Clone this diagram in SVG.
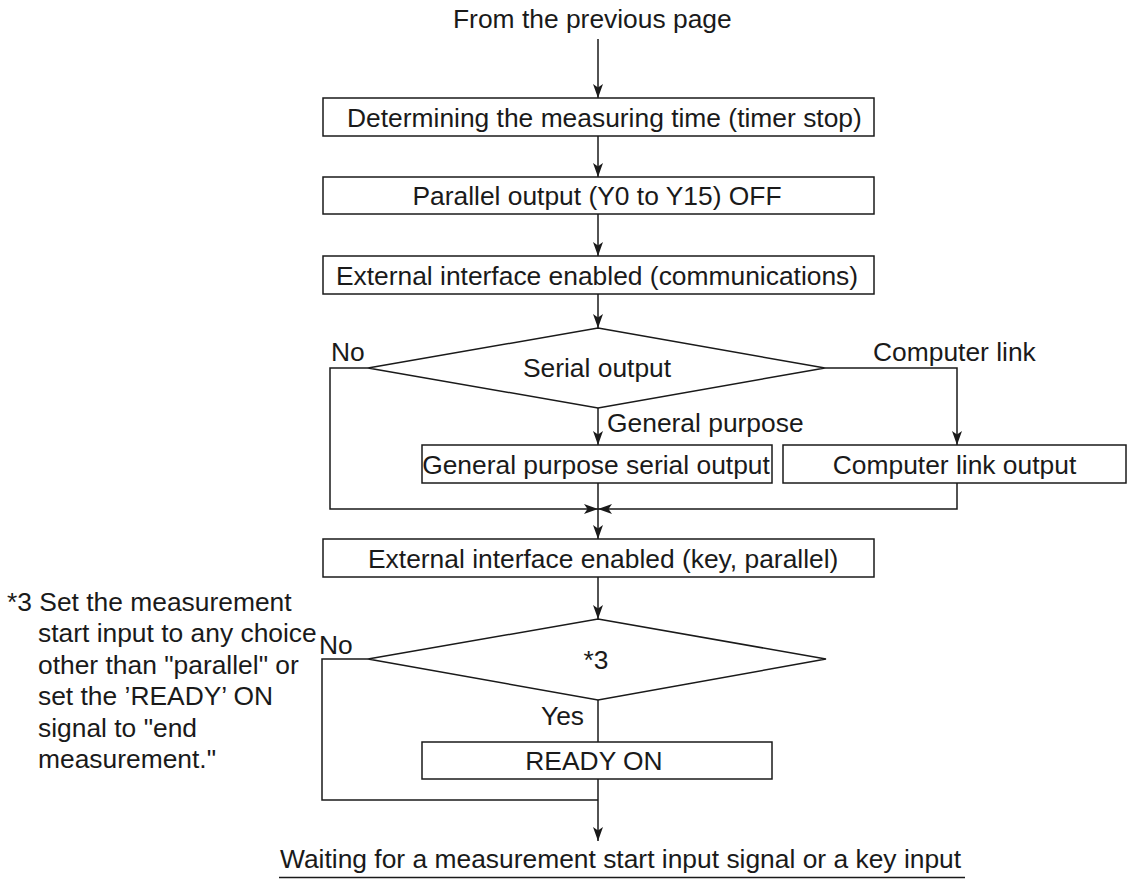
<svg xmlns="http://www.w3.org/2000/svg" width="1127" height="881" viewBox="0 0 1127 881">
<style>
text{font-family:"Liberation Sans",Arial,sans-serif;font-size:26.4px;fill:#1a1a1a}
.box{fill:#fff;stroke:#1a1a1a;stroke-width:1.5}
.c{text-anchor:middle}
.ln{fill:none;stroke:#1a1a1a;stroke-width:1.5}
.arr{marker-end:url(#ah)}
</style>
<defs>
<marker id="ah" viewBox="0 0 14 10" refX="14" refY="5" markerWidth="14" markerHeight="10" orient="auto" markerUnits="userSpaceOnUse">
<path d="M0,0 L14,5 L0,10 L3.5,5 z" fill="#1a1a1a"/>
</marker>
</defs>
<rect width="1127" height="881" fill="#fff"/>

<g id="connectors">
<path class="ln arr" d="M598,39 V98"/>
<path class="ln arr" d="M598,136 V177"/>
<path class="ln arr" d="M598,214 V256"/>
<path class="ln arr" d="M598,294 V328"/>
<path class="ln arr" d="M598,408 V445"/>
<path class="ln arr" d="M825,368 H957 V445"/>
<path class="ln arr" d="M368,368 H330 V509 H598"/>
<path class="ln arr" d="M957,483 V509 H598"/>
<path class="ln arr" d="M598,483 V539"/>
<path class="ln arr" d="M598,577 V619"/>
<path class="ln" d="M598,700 V742"/>
<path class="ln" d="M368,659 H322 V800 H598"/>
<path class="ln arr" d="M598,779 V841"/>
</g>

<g id="start"><text x="453" y="28">From the previous page</text></g>

<g id="n1">
<rect class="box" x="323" y="98" width="551" height="38"/>
<text x="347" y="126.5">Determining the measuring time (timer stop)</text>
</g>
<g id="n2">
<rect class="box" x="323" y="177" width="551" height="37"/>
<text class="c" x="597" y="205">Parallel output (Y0 to Y15) OFF</text>
</g>
<g id="n3">
<rect class="box" x="323" y="256" width="551" height="38"/>
<text class="c" x="597" y="284.5">External interface enabled (communications)</text>
</g>
<g id="d1">
<polygon class="box" points="598,328 825,368 598,408 368,368"/>
<text class="c" x="597" y="377">Serial output</text>
<text x="331" y="361">No</text>
<text x="873" y="361">Computer link</text>
<text x="607" y="432">General purpose</text>
</g>
<g id="n4">
<rect class="box" x="422" y="445" width="350" height="38"/>
<text class="c" x="596" y="473.5">General purpose serial output</text>
</g>
<g id="n5">
<rect class="box" x="783" y="445" width="343" height="38"/>
<text class="c" x="954.5" y="473.5">Computer link output</text>
</g>
<g id="n6">
<rect class="box" x="323" y="539" width="551" height="38"/>
<text x="368" y="567.5">External interface enabled (key, parallel)</text>
</g>
<g id="d2">
<polygon class="box" points="598,619 826,659 598,700 368,659"/>
<text class="c" x="596" y="669">*3</text>
<text x="319" y="654">No</text>
<text x="541" y="725">Yes</text>
</g>
<g id="n7">
<rect class="box" x="422" y="742" width="350" height="37"/>
<text class="c" x="594" y="770">READY ON</text>
</g>
<g id="end">
<text x="280" y="868">Waiting for a measurement start input signal or a key input</text>
<line x1="279" y1="877.5" x2="965" y2="877.5" stroke="#1a1a1a" stroke-width="1.5"/>
</g>
<g id="note">
<text x="7" y="610.5">*3 Set the measurement</text>
<text x="38" y="642">start input to any choice</text>
<text x="38" y="673.5">other than "parallel" or</text>
<text x="38" y="705">set the ’READY’ ON</text>
<text x="38" y="736.5">signal to "end</text>
<text x="38" y="768">measurement."</text>
</g>
</svg>
